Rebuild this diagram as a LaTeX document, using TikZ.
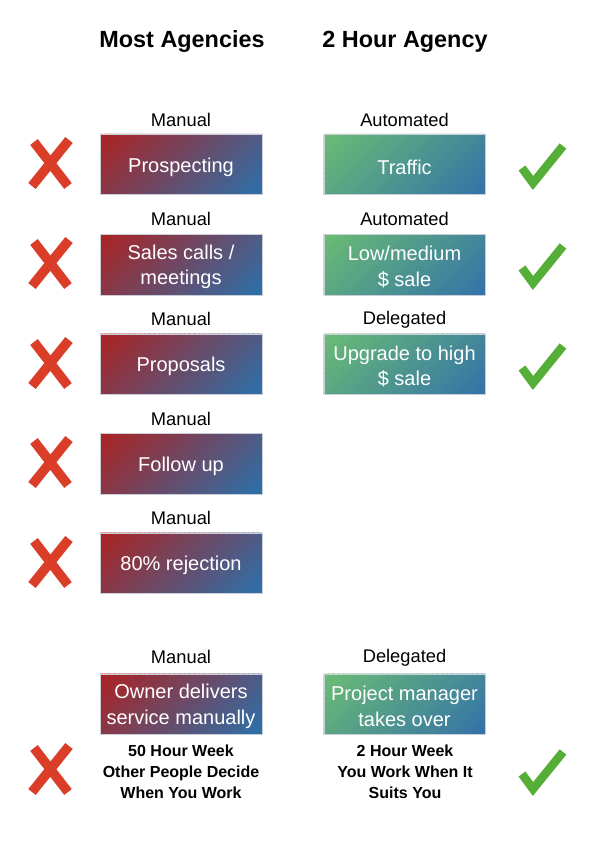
\documentclass[tikz,border=0pt]{standalone}
\usepackage{fontspec}
\setmainfont{Liberation Sans}
\definecolor{redc}{RGB}{172,34,34}
\definecolor{blueL}{RGB}{44,112,170}
\definecolor{greenc}{RGB}{106,188,116}
\definecolor{blueR}{RGB}{52,114,168}
\definecolor{crossc}{RGB}{218,62,40}
\definecolor{checkc}{RGB}{84,174,56}
\definecolor{edgec}{RGB}{200,205,215}
\tikzset{
  boxbase/.style={minimum width=161.5pt, minimum height=60.5pt, inner sep=0pt, draw=edgec, line width=0.5pt},
  boxtext/.style={text=white, align=center, font=\fontsize{20}{25.5}\selectfont, inner sep=0pt},
  tag/.style={font=\fontsize{18.3}{22}\selectfont, text=black, inner sep=0pt},
  head/.style={font=\bfseries\fontsize{23.4}{28}\selectfont, inner sep=0pt},
  result/.style={font=\bfseries\fontsize{16}{21}\selectfont, align=center, inner sep=0pt},
  crossmark/.style={draw=crossc, line width=9.5pt, line cap=butt},
  checkmark/.style={draw=checkc, line width=8.5pt, line cap=butt, line join=miter}
}
% #1 name, #2 x, #3 y, #4 start colour, #5 end colour, #6 text
% diagonal gradient built from bands x+y=c inside a 162x61 box (no clipping)
\newcommand{\gbox}[6]{%
  \begin{scope}[shift={(#2-81,#3-30.5)}]
    \foreach \i in {0,...,44}{%
      \pgfmathsetmacro{\ca}{\i*4.956}%
      \pgfmathsetmacro{\cb}{min(\ca+5.6,223)}%
      \pgfmathsetmacro{\ma}{max(min(162,\cb),\ca)}%
      \pgfmathsetmacro{\mb}{max(min(61,\cb),\ca)}%
      \pgfmathsetmacro{\pct}{100-\i*100/44}%
      \fill[#4!\pct!#5]
        ({min(\ca,162)},{max(\ca-162,0)}) --
        ({min(\ma,162)},{max(\ma-162,0)}) --
        ({min(\cb,162)},{max(\cb-162,0)}) --
        ({max(\cb-61,0)},{min(\cb,61)}) --
        ({max(\mb-61,0)},{min(\mb,61)}) --
        ({max(\ca-61,0)},{min(\ca,61)}) -- cycle;
    }
  \end{scope}
  \node[boxbase] (#1) at (#2,#3) {};
  \node[boxtext] (#1t) at (#2,#3+2.5) {#6};
}
\newcommand{\crossat}[3]{%
  \coordinate (#1a) at (#2-16,#3-22);
  \coordinate (#1b) at (#2+18,#3+22);
  \coordinate (#1c) at (#2+19,#3-24);
  \coordinate (#1d) at (#2-18,#3+22);
  \draw[crossmark] (#1a) -- (#1b);
  \draw[crossmark] (#1c) -- (#1d);
}
\newcommand{\checkat}[3]{%
  \coordinate (#1a) at (#2-20,#3+3);
  \coordinate (#1b) at (#2-9,#3+18);
  \coordinate (#1c) at (#2+21,#3-19);
  \draw[checkmark] (#1a) -- (#1b) -- (#1c);
}
\begin{document}
\begin{tikzpicture}[x=1pt,y=-1pt]
\path[fill=white] (0,0) rectangle (595,842);
\useasboundingbox (0,0) rectangle (595,842);

\node[head] (h1) at (182,41.5) {Most Agencies};
\node[head] (h2) at (405,41.5) {2 Hour Agency};

% left column
\gbox{l1}{181}{164.5}{redc}{blueL}{Prospecting}
\gbox{l2}{181}{264.5}{redc}{blueL}{Sales calls /\\meetings}
\gbox{l3}{181}{364}{redc}{blueL}{Proposals}
\gbox{l4}{181}{463.5}{redc}{blueL}{Follow up}
\gbox{l5}{181}{563}{redc}{blueL}{80\% rejection}
\gbox{l6}{181}{704}{redc}{blueL}{Owner delivers\\service manually}

\node[tag] (t1) at (181,119.5) {Manual};
\node[tag] (t2) at (181,219) {Manual};
\node[tag] (t3) at (181,319) {Manual};
\node[tag] (t4) at (181,418.5) {Manual};
\node[tag] (t5) at (181,518) {Manual};
\node[tag] (t6) at (181,657) {Manual};

% right column
\gbox{r1}{404.5}{164.5}{greenc}{blueR}{Traffic}
\gbox{r2}{404.5}{264.5}{greenc}{blueR}{Low/medium\\\$ sale}
\gbox{r3}{404.5}{364}{greenc}{blueR}{Upgrade to high\\\$ sale}
\gbox{r6}{404.5}{704}{greenc}{blueR}{Project manager\\takes over}

\node[tag] (u1) at (404.5,119.5) {Automated};
\node[tag] (u2) at (404.5,219) {Automated};
\node[tag] (u3) at (404.5,319.5) {Delegated};
\node[tag] (u6) at (404.5,657.5) {Delegated};

% results
\node[result] (res1) at (181,771.5) {50 Hour Week\\Other People Decide\\When You Work};
\node[result] (res2) at (405,771.5) {2 Hour Week\\You Work When It\\Suits You};

% marks
\crossat{x1}{50}{164}
\crossat{x2}{50}{264}
\crossat{x3}{50}{364}
\crossat{x4}{50}{463}
\crossat{x5}{50}{563}
\crossat{x6}{50}{770}
\checkat{c1}{542}{165}
\checkat{c2}{542}{265}
\checkat{c3}{542}{365}
\checkat{c6}{542}{771}
\end{tikzpicture}
\end{document}
